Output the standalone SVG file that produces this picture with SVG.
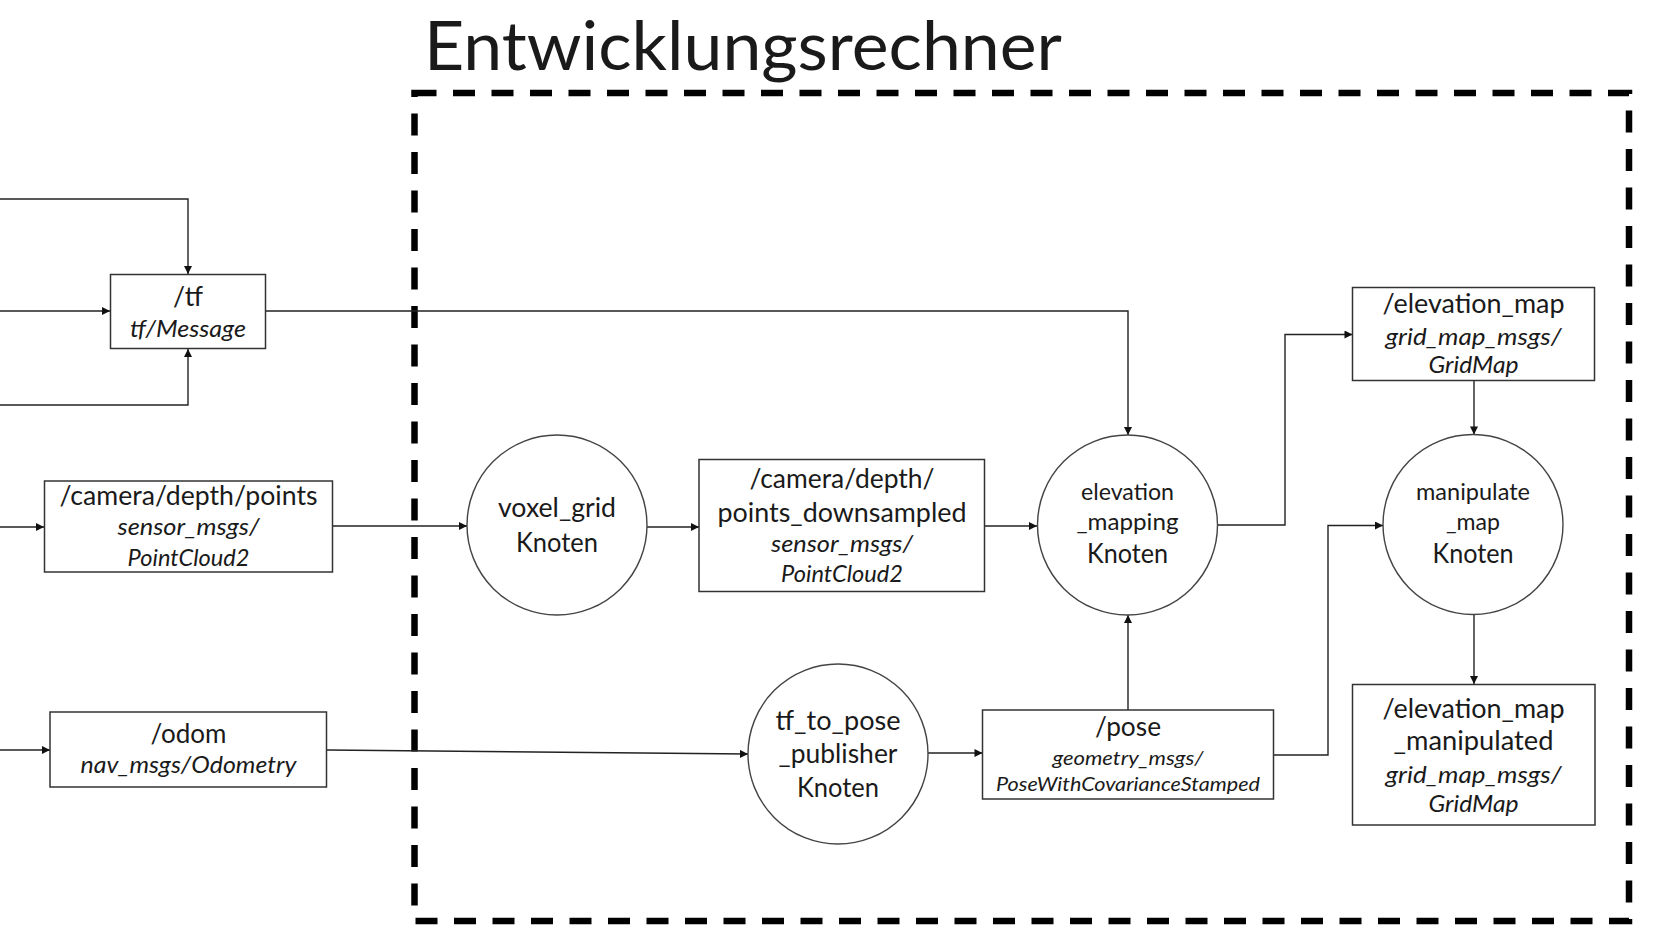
<svg xmlns="http://www.w3.org/2000/svg" width="1661" height="937" viewBox="0 0 1661 937">
<style>
text{font-family:Lato,"Liberation Sans",sans-serif;fill:#1a1a1a;text-anchor:middle}
.m{font-size:26px}
.s{font-size:23px}
.i{font-size:23px;font-style:italic}
.i2{font-size:20px;font-style:italic}
.t{font-size:67px;text-anchor:start}
.box{fill:#fff;stroke:#333;stroke-width:1.5}
.node{fill:#fff;stroke:#444;stroke-width:1.4}
.c{fill:none;stroke:#222;stroke-width:1.4;marker-end:url(#ah)}
.frame{fill:none;stroke:#000;stroke-width:6.5;stroke-dasharray:22 16.5}
</style>
<defs>
<marker id="ah" viewBox="0 0 10 10" refX="10" refY="5" markerWidth="9" markerHeight="8" markerUnits="userSpaceOnUse" orient="auto">
<path d="M0,0 L10,5 L0,10 z" fill="#111"/>
</marker>
</defs>
<rect width="1661" height="937" fill="#fff"/>
<g id="frame">
<rect class="frame" x="414.5" y="93" width="1214.5" height="828"/>
<text class="t" x="424" y="70" textLength="638" lengthAdjust="spacingAndGlyphs">Entwicklungsrechner</text>
</g>
<g id="connectors">
<path class="c" d="M0,199 H188 V274"/>
<path class="c" d="M0,311 H110"/>
<path class="c" d="M0,405 H188 V349"/>
<path class="c" d="M266,311 H1128 V435"/>
<path class="c" d="M0,527 H44"/>
<path class="c" d="M332,526 L467,526"/>
<path class="c" d="M647,527 H699"/>
<path class="c" d="M985,526 H1037"/>
<path class="c" d="M1217,525 H1285 V334.5 H1352.5"/>
<path class="c" d="M1474,381 V434.5"/>
<path class="c" d="M1474,614.5 V684"/>
<path class="c" d="M0,750 H50"/>
<path class="c" d="M327,750 L748,754"/>
<path class="c" d="M928,753 H982.5"/>
<path class="c" d="M1128,710 V615"/>
<path class="c" d="M1273.5,755 H1328 V525.5 H1383"/>
</g>
<g id="tf">
<rect class="box" x="110.5" y="274.5" width="155" height="74"/>
<text class="m" x="188" y="306" textLength="30" lengthAdjust="spacingAndGlyphs">/tf</text>
<text class="i" x="188" y="337" textLength="116" lengthAdjust="spacingAndGlyphs">tf/Message</text>
</g>
<g id="camera_points">
<rect class="box" x="44.5" y="481" width="288" height="91"/>
<text class="m" x="188.5" y="505" textLength="258" lengthAdjust="spacingAndGlyphs">/camera/depth/points</text>
<text class="i" x="188.5" y="535" textLength="142" lengthAdjust="spacingAndGlyphs">sensor_msgs/</text>
<text class="i" x="188.5" y="566" textLength="122" lengthAdjust="spacingAndGlyphs">PointCloud2</text>
</g>
<g id="odom">
<rect class="box" x="50" y="712" width="276.5" height="75"/>
<text class="m" x="188.5" y="743" textLength="76" lengthAdjust="spacingAndGlyphs">/odom</text>
<text class="i" x="188.5" y="773" textLength="216" lengthAdjust="spacingAndGlyphs">nav_msgs/Odometry</text>
</g>
<g id="voxel_grid">
<circle class="node" cx="557" cy="525" r="90"/>
<text class="m" x="557" y="517" textLength="118" lengthAdjust="spacingAndGlyphs">voxel_grid</text>
<text class="m" x="557" y="552" textLength="82" lengthAdjust="spacingAndGlyphs">Knoten</text>
</g>
<g id="points_downsampled">
<rect class="box" x="699" y="459.5" width="285.5" height="132"/>
<text class="m" x="842" y="488" textLength="185" lengthAdjust="spacingAndGlyphs">/camera/depth/</text>
<text class="m" x="842" y="521.5" textLength="249" lengthAdjust="spacingAndGlyphs">points_downsampled</text>
<text class="i" x="842" y="551.5" textLength="142" lengthAdjust="spacingAndGlyphs">sensor_msgs/</text>
<text class="i" x="842" y="581.5" textLength="122" lengthAdjust="spacingAndGlyphs">PointCloud2</text>
</g>
<g id="elevation_mapping">
<circle class="node" cx="1127.5" cy="525" r="90"/>
<text class="s" x="1127.5" y="500" textLength="93" lengthAdjust="spacingAndGlyphs">elevation</text>
<text class="s" x="1127.5" y="530" textLength="102" lengthAdjust="spacingAndGlyphs">_mapping</text>
<text class="m" x="1127.5" y="563" textLength="81" lengthAdjust="spacingAndGlyphs">Knoten</text>
</g>
<g id="elevation_map">
<rect class="box" x="1352.5" y="287.5" width="242" height="93"/>
<text class="m" x="1473.5" y="313" textLength="182" lengthAdjust="spacingAndGlyphs">/elevation_map</text>
<text class="i" x="1473.5" y="345" textLength="176" lengthAdjust="spacingAndGlyphs">grid_map_msgs/</text>
<text class="i" x="1473.5" y="373" textLength="90" lengthAdjust="spacingAndGlyphs">GridMap</text>
</g>
<g id="manipulate_map">
<circle class="node" cx="1473" cy="524.5" r="90"/>
<text class="s" x="1473" y="500" textLength="114" lengthAdjust="spacingAndGlyphs">manipulate</text>
<text class="s" x="1473" y="530" textLength="54" lengthAdjust="spacingAndGlyphs">_map</text>
<text class="m" x="1473" y="563" textLength="81" lengthAdjust="spacingAndGlyphs">Knoten</text>
</g>
<g id="tf_to_pose_publisher">
<circle class="node" cx="838" cy="754" r="90"/>
<text class="m" x="838" y="730" textLength="125" lengthAdjust="spacingAndGlyphs">tf_to_pose</text>
<text class="m" x="838" y="763" textLength="119" lengthAdjust="spacingAndGlyphs">_publisher</text>
<text class="m" x="838" y="796.5" textLength="82" lengthAdjust="spacingAndGlyphs">Knoten</text>
</g>
<g id="pose">
<rect class="box" x="982.5" y="710" width="291" height="89"/>
<text class="m" x="1128" y="736" textLength="66" lengthAdjust="spacingAndGlyphs">/pose</text>
<text class="i2" x="1128" y="765" textLength="151" lengthAdjust="spacingAndGlyphs">geometry_msgs/</text>
<text class="i2" x="1128" y="790.5" textLength="264" lengthAdjust="spacingAndGlyphs">PoseWithCovarianceStamped</text>
</g>
<g id="elevation_map_manipulated">
<rect class="box" x="1352.5" y="684.5" width="242.5" height="140.5"/>
<text class="m" x="1473.5" y="718" textLength="182" lengthAdjust="spacingAndGlyphs">/elevation_map</text>
<text class="m" x="1473.5" y="750" textLength="160" lengthAdjust="spacingAndGlyphs">_manipulated</text>
<text class="i" x="1473.5" y="783" textLength="176" lengthAdjust="spacingAndGlyphs">grid_map_msgs/</text>
<text class="i" x="1473.5" y="811.5" textLength="90" lengthAdjust="spacingAndGlyphs">GridMap</text>
</g>
</svg>
